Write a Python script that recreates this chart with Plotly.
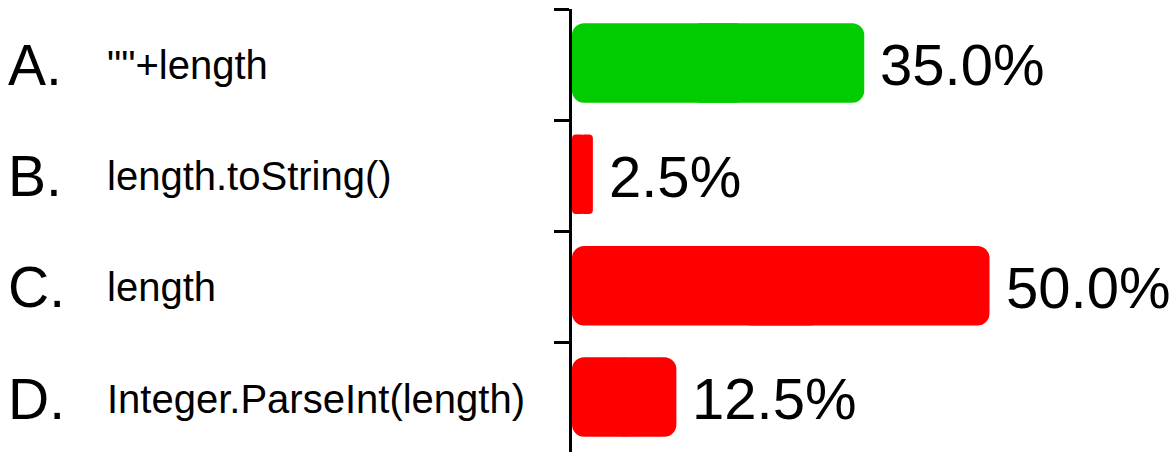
import plotly.graph_objects as go

# Poll answers and the share of votes each one received
letters = ["A.", "B.", "C.", "D."]
answers = ['""+length', "length.toString()", "length", "Integer.ParseInt(length)"]
shares = [35.0, 2.5, 50.0, 12.5]
colors = ["#00CC00", "#FF0000", "#FF0000", "#FF0000"]

FONT = "Liberation Sans, Arial, sans-serif"
BAR_W = 0.714
PX_PER_PCT = 8.35

W, H = 1175, 452
M_L, M_T = 572, 9
x_max = (W - M_L) / PX_PER_PCT
row_px = 111.33
y_bottom = -0.5 + (H - M_T) / row_px

fig = go.Figure()

# Each bar is built from two overlapping halves so that both ends get rounded corners
for i, (v, c) in enumerate(zip(shares, colors)):
    radius = 12 if v > 5 else 4
    # right part: grows from 40% of the value to the value (rounded right end)
    fig.add_trace(go.Bar(
        y=[i], x=[v * 0.6], base=[v * 0.4], orientation="h",
        width=[BAR_W], offset=[-BAR_W / 2 - 0.015],
        marker=dict(color=c, line_width=0, cornerradius=radius),
        hoverinfo="skip", showlegend=False,
    ))
    # left part: grows from 60% of the value back to zero (rounded left end)
    fig.add_trace(go.Bar(
        y=[i], x=[-v * 0.6], base=[v * 0.6], orientation="h",
        width=[BAR_W], offset=[-BAR_W / 2 - 0.015],
        marker=dict(color=c, line_width=0, cornerradius=radius),
        hoverinfo="skip", showlegend=False,
    ))

annotations = []
for i, (letter, answer, v) in enumerate(zip(letters, answers, shares)):
    annotations.append(dict(
        x=(6 - M_L) / (W - M_L), xref="paper", xanchor="left",
        y=i, yref="y", yanchor="middle",
        text=letter, showarrow=False,
        font=dict(family=FONT, size=57, color="black"),
    ))
    annotations.append(dict(
        x=(105 - M_L) / (W - M_L), xref="paper", xanchor="left",
        y=i, yref="y", yanchor="middle",
        text=answer, showarrow=False,
        font=dict(family=FONT, size=40, color="black"),
    ))
    annotations.append(dict(
        x=v, xref="x", xanchor="left", xshift=14,
        y=i, yref="y", yanchor="middle",
        text=f"{v:.1f}%", showarrow=False,
        font=dict(family=FONT, size=58, color="black"),
    ))

fig.update_layout(
    width=W, height=H,
    margin=dict(l=M_L, r=0, t=M_T, b=0, pad=0),
    paper_bgcolor="white", plot_bgcolor="white",
    barmode="overlay",
    annotations=annotations,
    xaxis=dict(visible=False, range=[0, x_max]),
    yaxis=dict(
        range=[y_bottom, -0.5],
        tickmode="array",
        tickvals=[k - 0.5 for k in range(len(shares))],
        ticktext=["" for _ in shares],
        ticks="outside", ticklen=15, tickwidth=3, tickcolor="black",
        showline=True, linewidth=3, linecolor="black",
        showgrid=False, zeroline=False,
    ),
)

fig.write_html("out.html")
